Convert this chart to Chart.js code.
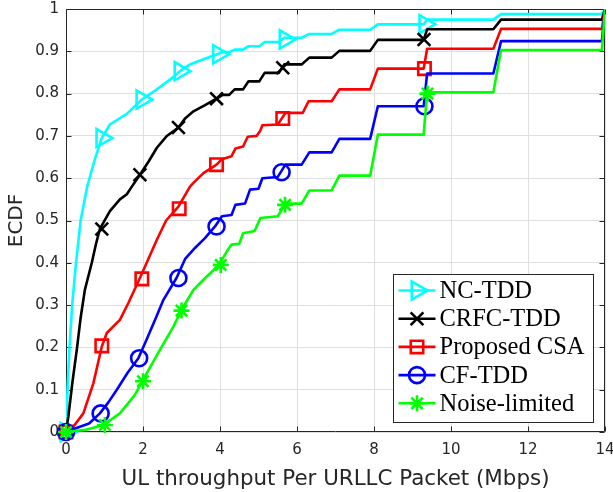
<!DOCTYPE html>
<html><head><meta charset="utf-8">
<script src="https://cdn.jsdelivr.net/npm/chart.js@4"></script>
<style>html,body{margin:0;padding:0;background:#fff}#wrap{width:613px;height:492px;position:relative}</style>
</head><body><div id="wrap"><canvas id="c" width="613" height="492"></canvas></div>
<script>
// ---------- data ----------
const xTicks = [0, 2, 4, 6, 8, 10, 12, 14];
const yTicks = [0, 0.1, 0.2, 0.3, 0.4, 0.5, 0.6, 0.7, 0.8, 0.9, 1];
const seriesNames = ['NC-TDD', 'CRFC-TDD', 'Proposed CSA', 'CF-TDD', 'Noise-limited'];

const ncX = [0,0.04,0.09,0.16,0.26,0.38,0.55,0.75,0.93,1.14,1.58,1.97,2.36,2.7,2.96,3.22,3.57,3.93,4.07,4.24,4.38,4.6,4.74,5.02,5.16,5.53,5.67,6.12,6.32,6.9,7.1,7.9,8.1,9.29,9.38,11.1,11.3,13.92,14];
const ncY = [0,0.1,0.2,0.3,0.4,0.5,0.58,0.645,0.695,0.727,0.752,0.786,0.81,0.833,0.853,0.869,0.881,0.893,0.898,0.898,0.904,0.904,0.912,0.912,0.922,0.922,0.932,0.932,0.941,0.941,0.951,0.951,0.9636,0.9636,0.975,0.975,0.988,0.988,1];
const ncMarkX = [0,0.93,1.97,2.96,3.96,5.69,9.32];
const ncMarkY = [0,0.695,0.786,0.853,0.893,0.928,0.964];

const crfcX = [0,0.06,0.17,0.28,0.38,0.49,0.67,0.78,0.88,1.14,1.4,1.58,1.71,1.92,2.15,2.36,2.61,2.92,3.1,3.31,3.6,3.91,4.07,4.24,4.38,4.6,4.74,5.02,5.16,5.53,5.67,6.12,6.32,6.9,7.1,7.9,8.1,9.29,9.38,11.1,11.3,13.92,14];
const crfcY = [0,0.036,0.12,0.194,0.27,0.336,0.4,0.445,0.48,0.522,0.55,0.562,0.58,0.608,0.64,0.672,0.699,0.72,0.742,0.758,0.772,0.788,0.797,0.797,0.81,0.81,0.829,0.829,0.849,0.849,0.869,0.869,0.885,0.885,0.901,0.901,0.927,0.927,0.952,0.952,0.975,0.975,1];
const crfcMarkX = [0,0.93,1.92,2.92,3.91,5.63,9.3];
const crfcMarkY = [0,0.48,0.608,0.72,0.788,0.861,0.928];

const csaX = [0,0.19,0.45,0.71,0.93,1.06,1.4,1.62,1.92,2.36,2.6,2.92,3.22,3.31,3.57,3.91,4.05,4.3,4.4,4.6,4.72,4.95,5.05,5.1,5.5,5.7,6.15,6.3,6.9,7.1,7.9,8.1,9.29,9.38,11.1,11.3,13.92,14];
const csaY = [0,0.0126,0.044,0.115,0.202,0.234,0.265,0.305,0.364,0.4545,0.5,0.533,0.58,0.589,0.612,0.632,0.645,0.652,0.67,0.675,0.698,0.7,0.713,0.725,0.727,0.7545,0.7545,0.782,0.782,0.81,0.81,0.859,0.859,0.906,0.906,0.953,0.953,1];
const csaMarkX = [0,0.93,1.97,2.94,3.91,5.63,9.31];
const csaMarkY = [0,0.2036,0.362,0.528,0.632,0.741,0.859];

const cfX = [0,0.36,0.6,0.88,1.1,1.32,1.6,1.88,2.1,2.35,2.53,2.87,3.1,3.35,3.61,3.87,4.05,4.3,4.4,4.65,4.78,5.0,5.1,5.5,5.7,6.12,6.32,6.9,7.1,7.9,8.1,9.29,9.38,11.1,11.3,13.92,14];
const cfY = [0,0.0126,0.02,0.044,0.07,0.1,0.14,0.1745,0.22,0.273,0.3125,0.364,0.41,0.435,0.4585,0.486,0.51,0.513,0.537,0.54,0.573,0.575,0.6,0.603,0.632,0.632,0.661,0.661,0.693,0.693,0.77,0.77,0.8475,0.8475,0.924,0.924,1];
const cfMarkX = [0,0.9,1.9,2.92,3.91,5.6,9.31];
const cfMarkY = [0,0.044,0.1745,0.364,0.486,0.614,0.77];

const noiseX = [0,0.5,0.97,1.4,1.79,2.0,2.44,2.79,3.0,3.31,3.57,3.8,4.0,4.2,4.3,4.5,4.6,4.9,5.05,5.5,5.7,6.12,6.32,6.9,7.1,7.9,8.1,9.29,9.38,11.1,11.3,13.92,14];
const noiseY = [0,0.005,0.0166,0.044,0.0876,0.123,0.194,0.249,0.289,0.336,0.36,0.38,0.4,0.43,0.443,0.445,0.47,0.475,0.506,0.51,0.54,0.54,0.571,0.571,0.606,0.606,0.703,0.703,0.803,0.803,0.903,0.903,1];
const noiseMarkX = [0,1.01,2.0,3.0,4.02,5.69,9.39];
const noiseMarkY = [0,0.0166,0.12,0.287,0.395,0.537,0.8];

// ---------- styles ----------
const colors = ['#00FFFF', '#000000', '#FF0000', '#0000FF', '#00FF00'];
const markers = [
  {style:'triangle', rot:90, r:10.5},
  {style:'crossRot', rot:0, r:9},
  {style:'rect', rot:0, r:8.8},
  {style:'circle', rot:0, r:8},
  {style:'star', rot:0, r:8}
];
const lineXs = [ncX, crfcX, csaX, cfX, noiseX];
const lineYs = [ncY, crfcY, csaY, cfY, noiseY];
const markXs = [ncMarkX, crfcMarkX, csaMarkX, cfMarkX, noiseMarkX];
const markYs = [ncMarkY, crfcMarkY, csaMarkY, cfMarkY, noiseMarkY];
const LW = 2.6;

const zip = (xs, ys) => xs.map((x, i) => ({x: x, y: ys[i]}));
const datasets = [];
seriesNames.forEach((name, i) => {
  const ord = 10 - i * 2;
  datasets.push({
    label: name, data: zip(lineXs[i], lineYs[i]), showLine: true,
    borderColor: colors[i], backgroundColor: colors[i], borderWidth: LW,
    pointRadius: 0, tension: 0, borderJoinStyle: 'round', borderCapStyle: 'round', order: ord
  });
  datasets.push({
    label: name + ' markers', data: zip(markXs[i], markYs[i]), showLine: false,
    pointStyle: markers[i].style, pointRotation: markers[i].rot, pointRadius: markers[i].r,
    pointBorderColor: colors[i], pointBackgroundColor: 'rgba(0,0,0,0)', pointBorderWidth: LW,
    clip: false, order: ord - 1
  });
});

const AX = '#262626';
const GRID = '#dfdfdf';
const TICKFONT = {family: 'DejaVu Sans', size: 15};

const axesBox = {
  id: 'axesBox',
  beforeDatasetsDraw(chart) {
    const {ctx, chartArea: a, scales} = chart;
    ctx.save();
    ctx.strokeStyle = AX; ctx.lineWidth = 1;
    ctx.beginPath();
    const L = Math.round(a.left) + 0.5, R = Math.round(a.right) - 0.5, T = Math.round(a.top) + 0.5, B = Math.round(a.bottom) - 0.5;
    ctx.rect(L, T, R - L, B - T);
    const tl = 5;
    xTicks.forEach(v => {
      const px = Math.round(scales.x.getPixelForValue(v)) + 0.5;
      ctx.moveTo(px, B); ctx.lineTo(px, B - tl);
      ctx.moveTo(px, T); ctx.lineTo(px, T + tl);
    });
    yTicks.forEach(v => {
      const py = Math.round(scales.y.getPixelForValue(v)) + 0.5;
      ctx.moveTo(L, py); ctx.lineTo(L + tl, py);
      ctx.moveTo(R, py); ctx.lineTo(R - tl, py);
    });
    ctx.stroke();
    ctx.restore();
  }
};

function drawMarker(ctx, m, color, x, y) {
  ctx.save();
  ctx.strokeStyle = color; ctx.lineWidth = LW; ctx.fillStyle = 'rgba(0,0,0,0)';
  if (Chart.helpers && Chart.helpers.drawPoint) {
    Chart.helpers.drawPoint(ctx, {pointStyle: m.style, rotation: m.rot, radius: m.r, borderWidth: LW}, x, y);
  }
  ctx.restore();
}

const boxLegend = {
  id: 'boxLegend',
  afterDraw(chart) {
    const {ctx, chartArea: a} = chart;
    const w = 200, h = 148;
    const x0 = Math.round(a.right - 12 - w) + 0.5, y0 = Math.round(a.bottom - 10 - h) + 0.5;
    ctx.save();
    ctx.fillStyle = '#ffffff';
    ctx.fillRect(x0, y0, w, h);
    ctx.strokeStyle = AX; ctx.lineWidth = 1;
    ctx.strokeRect(x0, y0, w, h);
    ctx.font = '24.5px "Liberation Serif", "Times New Roman", serif';
    ctx.textBaseline = 'middle';
    seriesNames.forEach((name, i) => {
      const cy = y0 + 16 + i * 28.2;
      ctx.strokeStyle = colors[i]; ctx.lineWidth = LW;
      ctx.beginPath(); ctx.moveTo(x0 + 5, cy); ctx.lineTo(x0 + 42, cy); ctx.stroke();
      drawMarker(ctx, markers[i], colors[i], x0 + 23.5, cy);
      ctx.fillStyle = '#000';
      ctx.fillText(name, x0 + 46, cy + 1);
    });
    ctx.restore();
  }
};

new Chart(document.getElementById('c'), {
  type: 'scatter',
  data: {datasets: datasets},
  options: {
    responsive: false, animation: false, devicePixelRatio: 1,
    layout: {autoPadding: false, padding: {top: 9, right: 8, left: 0, bottom: 0}},
    plugins: {legend: {display: false}, tooltip: {enabled: false}},
    scales: {
      x: {
        type: 'linear', min: 0, max: 14,
        afterBuildTicks: s => { s.ticks = xTicks.map(v => ({value: v})); },
        afterFit: s => { s.height = 60; s.paddingLeft = 0; s.paddingRight = 0; },
        grid: {color: GRID, lineWidth: 1, drawTicks: false},
        border: {display: false},
        ticks: {color: AX, font: TICKFONT, padding: 9, maxRotation: 0, callback: v => String(v)},
        title: {display: true, text: 'UL throughput Per URLLC Packet (Mbps)', color: AX,
                font: {family: 'DejaVu Sans', size: 21.4}, padding: {top: 3, bottom: 0}}
      },
      y: {
        type: 'linear', min: 0, max: 1,
        afterBuildTicks: s => { s.ticks = yTicks.map(v => ({value: v})); },
        afterFit: s => { s.width = 66; s.paddingTop = 0; s.paddingBottom = 0; },
        grid: {color: GRID, lineWidth: 1, drawTicks: false},
        border: {display: false},
        ticks: {color: AX, font: TICKFONT, padding: 7, callback: v => String(Math.round(v * 10) / 10)},
        title: {display: true, text: 'ECDF', color: AX,
                font: {family: 'DejaVu Sans', size: 20}, padding: {top: 5, bottom: 0}}
      }
    }
  },
  plugins: [axesBox, boxLegend]
});
</script>
</body></html>
